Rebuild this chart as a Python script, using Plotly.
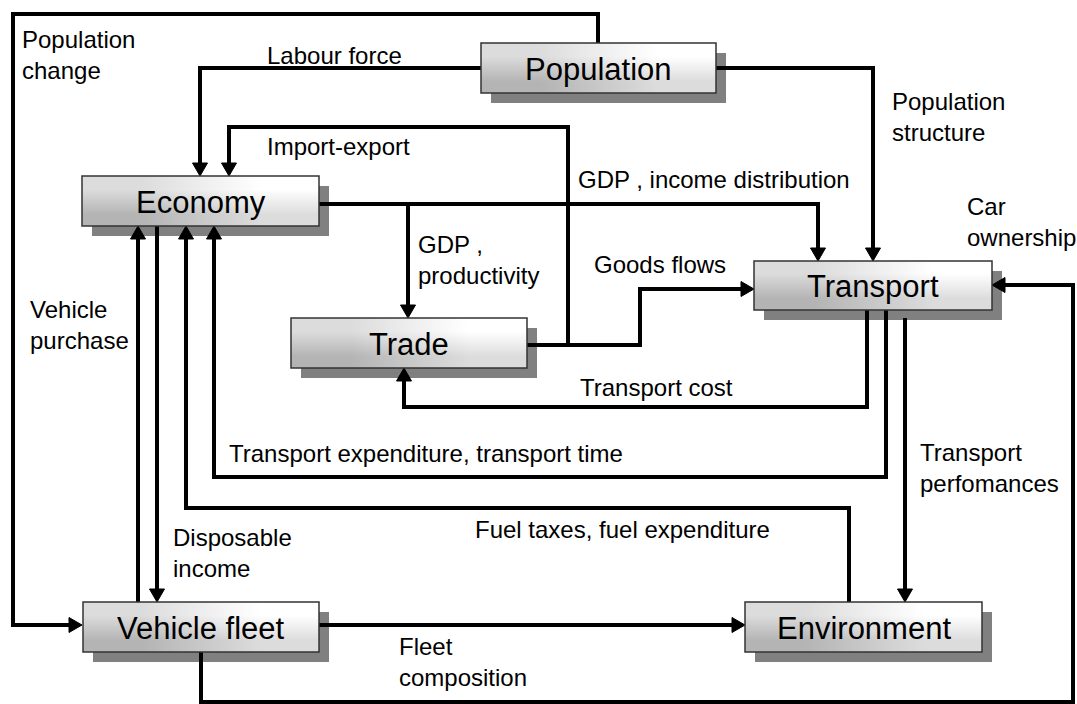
import plotly.graph_objects as go

W, H = 1077, 704

# ---------------- content ----------------
node_names = ["Population", "Economy", "Trade", "Transport", "Vehicle fleet", "Environment"]

link_labels = [
    "Population<br>change",
    "Labour force",
    "Population<br>structure",
    "Import-export",
    "GDP , income distribution",
    "Car<br>ownership",
    "GDP ,<br>productivity",
    "Goods flows",
    "Vehicle<br>purchase",
    "Transport cost",
    "Transport expenditure, transport time",
    "Transport<br>perfomances",
    "Fuel taxes, fuel expenditure",
    "Disposable<br>income",
    "Fleet<br>composition",
]

# ---------------- layout (pixel positions) ----------------
box_pos = {
    "Population": (481, 43, 716, 93),
    "Economy": (82, 176, 319, 226),
    "Trade": (291, 318, 527, 368),
    "Transport": (754, 261, 992, 310),
    "Vehicle fleet": (83, 602, 319, 652),
    "Environment": (745, 602, 982, 652),
}

label_pos = [  # left x, centre y
    (20, 55), (265, 55), (890, 117), (265, 146), (576, 179), (965, 222),
    (416, 260), (592, 264), (28, 325), (578, 387), (227, 453), (918, 468),
    (473, 529), (171, 553), (397, 662),
]

connectors = [
    [(598, 43), (598, 14), (13, 14), (13, 625), (82, 625)],
    [(481, 68), (200, 68), (200, 176)],
    [(716, 68), (873, 68), (873, 261)],
    [(568, 345), (568, 127), (229, 127), (229, 176)],
    [(319, 204), (818, 204), (818, 261)],
    [(408, 204), (408, 318)],
    [(527, 345), (640, 345), (640, 289), (754, 289)],
    [(867, 310), (867, 407), (404, 407), (404, 368)],
    [(886, 310), (886, 477), (214, 477), (214, 226)],
    [(849, 602), (849, 508), (186, 508), (186, 226)],
    [(905, 318), (905, 602)],
    [(138, 602), (138, 226)],
    [(157, 226), (157, 602)],
    [(319, 625), (745, 625)],
    [(201, 652), (201, 702), (1073, 702), (1073, 285), (992, 285)],
]

LINE_W = 4
ARROW_L = 13
ARROW_HW = 7.5
SHADOW = 10
FONT = "Arial, Liberation Sans, sans-serif"

fig = go.Figure()

# box gradient fills (diagonal: grey bottom-left -> white top-right)
for name in node_names:
    x0, y0, x1, y1 = box_pos[name]
    w, h = x1 - x0, y1 - y0
    fig.add_trace(go.Heatmap(
        x=[x0 + w / 4, x0 + 3 * w / 4],
        y=[y0 + h / 4, y0 + 3 * h / 4],
        z=[[0.5, 1.0], [0.0, 0.5]],
        zmin=0, zmax=1,
        colorscale=[[0, "#b4b4b4"], [0.5, "#dcdcdc"], [1, "#ffffff"]],
        zsmooth="best", showscale=False, hoverinfo="skip",
    ))

# connectors
lx, ly, ax, ay = [], [], [], []
for pts in connectors:
    (px, py), (tx, ty) = pts[-2], pts[-1]
    dx, dy = tx - px, ty - py
    L = (dx * dx + dy * dy) ** 0.5
    ux, uy = dx / L, dy / L
    bx, by = tx - ux * ARROW_L, ty - uy * ARROW_L
    nx, ny = -uy, ux
    line_pts = pts[:-1] + [(bx + ux * 1.5, by + uy * 1.5)]
    for x, y in line_pts:
        lx.append(x)
        ly.append(y)
    lx.append(None)
    ly.append(None)
    ax += [tx, bx + nx * ARROW_HW, bx - nx * ARROW_HW, tx, None]
    ay += [ty, by + ny * ARROW_HW, by - ny * ARROW_HW, ty, None]

fig.add_trace(go.Scatter(x=lx, y=ly, mode="lines", line=dict(color="black", width=LINE_W),
                         hoverinfo="skip", connectgaps=False))
fig.add_trace(go.Scatter(x=ax, y=ay, mode="lines", fill="toself", fillcolor="black",
                         line=dict(color="black", width=1), hoverinfo="skip"))

shapes = []
for name in node_names:
    x0, y0, x1, y1 = box_pos[name]
    shapes.append(dict(type="rect", xref="x", yref="y", x0=x0 + SHADOW, x1=x1 + SHADOW,
                       y0=y0 + SHADOW, y1=y1 + SHADOW, fillcolor="#808080",
                       line=dict(width=0), layer="below"))
    shapes.append(dict(type="rect", xref="x", yref="y", x0=x0, x1=x1, y0=y0, y1=y1,
                       fillcolor="rgba(0,0,0,0)", line=dict(color="#333333", width=1.5),
                       layer="above"))

annotations = []
for name in node_names:
    x0, y0, x1, y1 = box_pos[name]
    annotations.append(dict(x=(x0 + x1) / 2, y=(y0 + y1) / 2 + 1, xref="x", yref="y",
                            text=name, showarrow=False, xanchor="center", yanchor="middle",
                            font=dict(family=FONT, size=31, color="black")))
for text, (x, y) in zip(link_labels, label_pos):
    annotations.append(dict(x=x, y=y, xref="x", yref="y", text=text, showarrow=False,
                            xanchor="left", yanchor="middle", align="left",
                            font=dict(family=FONT, size=24, color="black")))

fig.update_layout(
    width=W, height=H, margin=dict(l=0, r=0, t=0, b=0),
    paper_bgcolor="white", plot_bgcolor="white", showlegend=False,
    xaxis=dict(range=[0, W], visible=False, fixedrange=True),
    yaxis=dict(range=[H, 0], visible=False, fixedrange=True),
    shapes=shapes, annotations=annotations,
)

fig.write_html("out.html", config={"displayModeBar": False},
               post_script="document.body.style.margin='0';")
